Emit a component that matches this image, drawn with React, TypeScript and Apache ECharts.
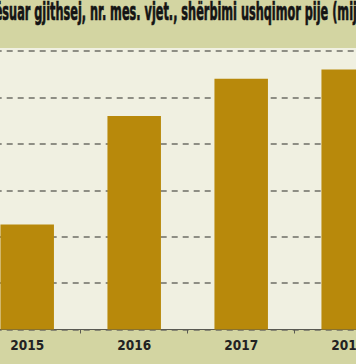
import React, { useEffect, useRef } from "react";
import * as echarts from "echarts";

const TITLE = "Të punësuar gjithsej, nr. mes. vjet., shërbimi ushqimor pije (mijë)";
const YEARS = ["2015", "2016", "2017", "2018"];
const EMPLOYED = [11.3, 23.0, 27.0, 28.0];
const Y_MAX = 30;
const Y_STEP = 5;

export default function App() {
  const ref = useRef<HTMLDivElement>(null);
  useEffect(() => {
    if (!ref.current) return;
    const chart = echarts.init(ref.current, null, { renderer: "svg" });
    chart.setOption({
      animation: false,
      backgroundColor: "#d3d5a2",
      grid: {
        left: -26.3,
        right: -45.7,
        top: 51,
        bottom: 34.5,
        show: true,
        backgroundColor: "#f0f0e1",
        borderWidth: 0,
        containLabel: false,
        outerBoundsMode: "none",
      },
      graphic: [
        {
          type: "rect",
          shape: { x: 0, y: 48, width: 356, height: 3 },
          style: { fill: "#f0f0e1" },
          silent: true,
          z: -1,
        },
        {
          type: "text",
          x: -47.5,
          y: 0,
          scaleX: 0.524,
          style: {
            text: TITLE,
            font: 'bold 24px "DejaVu Sans Condensed", sans-serif',
            fill: "#141414",
            stroke: "#141414",
            lineWidth: 0.7,
            textAlign: "left",
            textVerticalAlign: "top",
          },
        },
      ],
      xAxis: {
        type: "category",
        data: YEARS,
        axisLine: { lineStyle: { color: "#5a5a52", width: 1 } },
        axisTick: { show: true, length: 4, lineStyle: { color: "#5a5a52" } },
        axisLabel: {
          margin: 8,
          fontSize: 13.5,
          fontWeight: "bold",
          fontFamily: '"DejaVu Sans Condensed", sans-serif',
          color: "#222222",
        },
      },
      yAxis: {
        type: "value",
        min: 0,
        max: Y_MAX,
        interval: Y_STEP,
        axisLabel: { show: false },
        axisLine: { show: false },
        axisTick: { show: false },
        splitLine: {
          show: true,
          lineStyle: { color: "#6e6e66", width: 1.5, type: [6, 5] },
        },
      },
      series: [
        {
          type: "bar",
          data: EMPLOYED,
          barWidth: "50%",
          itemStyle: { color: "#b8890b" },
        },
      ],
    });
    return () => chart.dispose();
  }, []);
  return <div ref={ref} style={{ width: 356, height: 364, position: "fixed", left: 0, top: 0 }} />;
}
